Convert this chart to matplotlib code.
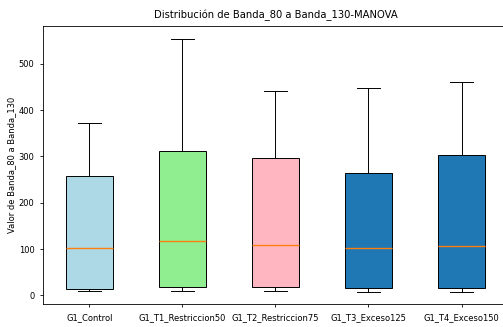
import matplotlib
matplotlib.use("Agg")
import matplotlib.pyplot as plt

grupos = ["G1_Control", "G1_T1_Restriccion50", "G1_T2_Restriccion75",
          "G1_T3_Exceso125", "G1_T4_Exceso150"]
whislo = [10, 10, 10, 8, 8]
q1 = [14, 18, 19, 15, 15]
med = [102, 117, 109, 103, 107]
q3 = [258, 312, 296, 264, 304]
whishi = [373, 554, 441, 447, 460]
colores = ["lightblue", "lightgreen", "lightpink", "#1f77b4", "#1f77b4"]

stats = []
for i, g in enumerate(grupos):
    stats.append({"label": g, "whislo": whislo[i], "q1": q1[i], "med": med[i],
                  "q3": q3[i], "whishi": whishi[i], "fliers": []})

fig = plt.figure(figsize=(5.03, 3.27), dpi=100)
ax = fig.add_axes([0.085, 0.0694, 0.925, 0.851])

lw = 0.7
bp = ax.bxp(stats, patch_artist=True, showfliers=False,
            boxprops=dict(linewidth=lw), whiskerprops=dict(linewidth=lw),
            capprops=dict(linewidth=lw), medianprops=dict(linewidth=1.0))
for patch, c in zip(bp["boxes"], colores):
    patch.set_facecolor(c)

ax.set_title("Distribución de Banda_80 a Banda_130-MANOVA", fontsize=7.2)
ax.set_xlabel("Grupo", fontsize=6)
ax.set_ylabel("Valor de Banda_80 a Banda_130", fontsize=6, labelpad=2)
ax.tick_params(labelsize=6, width=0.6, length=2.5)
for s in ax.spines.values():
    s.set_linewidth(0.6)

fig.savefig("out.png", dpi=100)
